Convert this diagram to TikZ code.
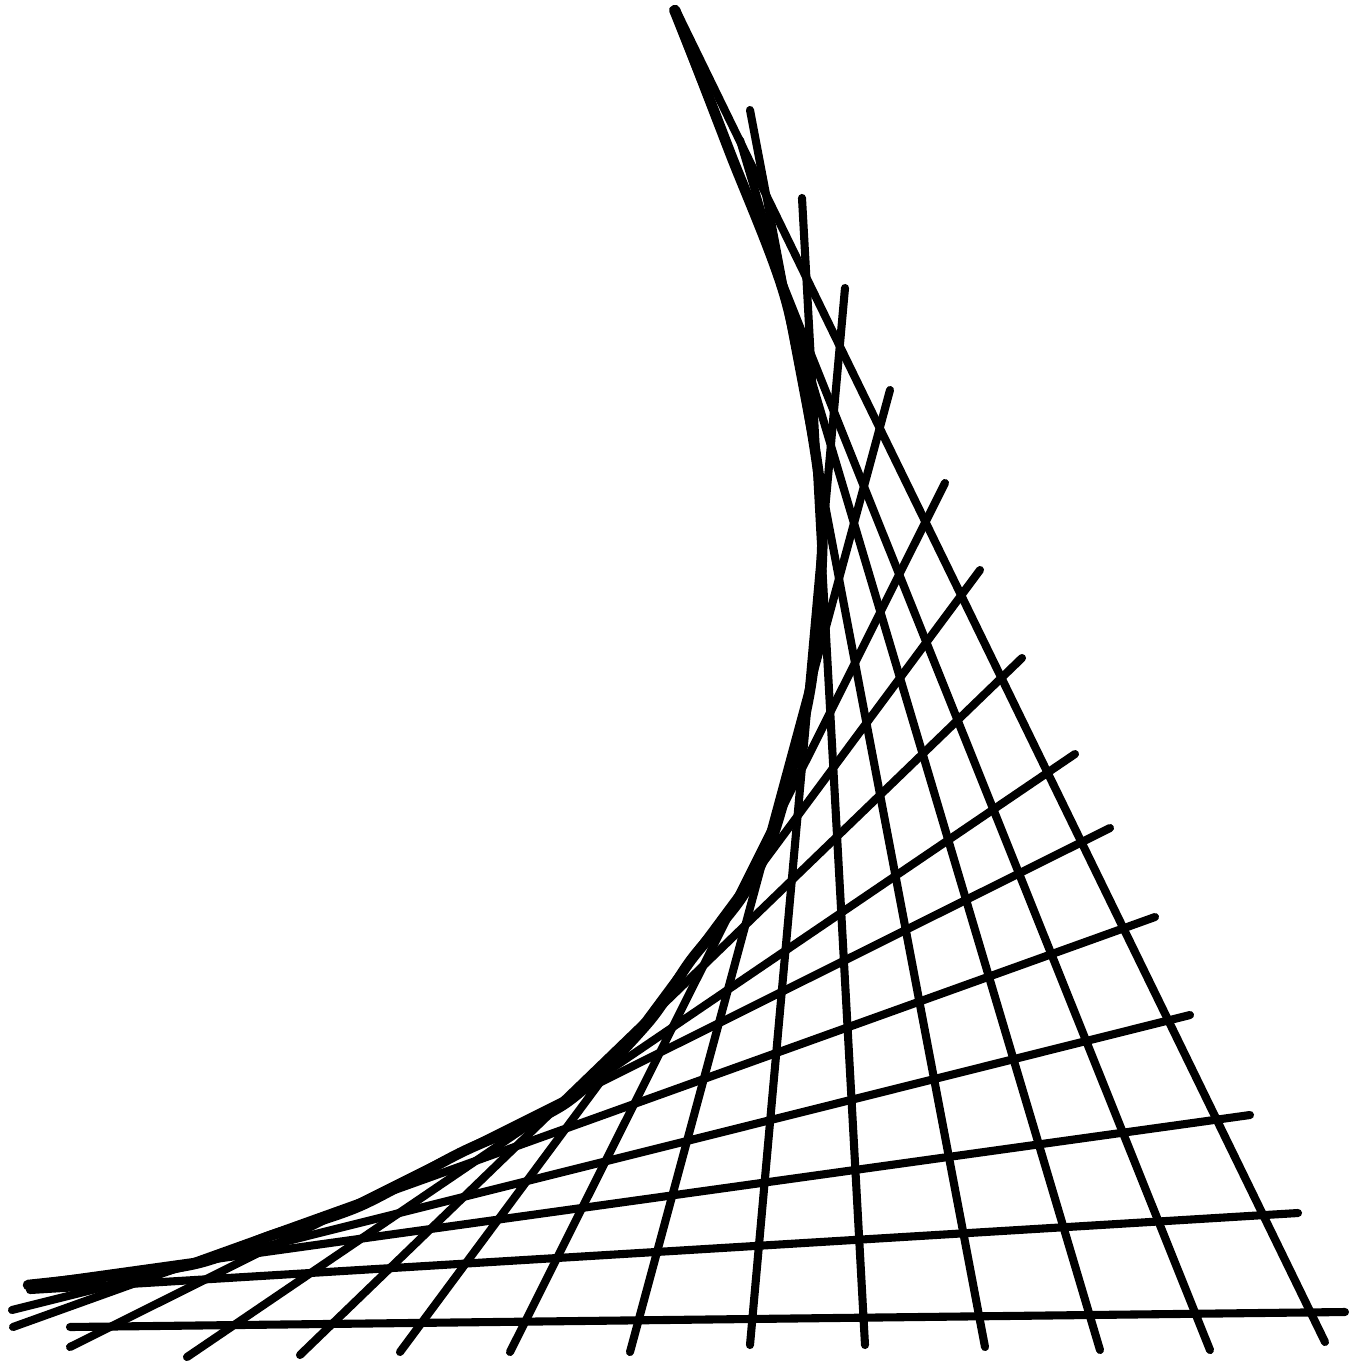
\documentclass[tikz,border=0pt]{standalone}
\begin{document}
\begin{tikzpicture}[x=0.01cm, y=-0.01cm, string/.style={line width=2.3pt, line cap=round, line join=round}]
    \useasboundingbox (0,0) rectangle (1362,1366);
    % each string joins its upper end (u) to its lower end (s)
    \foreach \i/\ux/\uy/\sx/\sy in {0/676/10/1325/1342, 1/673/10/1210/1350, 2/740/140/1100/1350,
        3/750/110/985/1347, 4/802/198/865/1345, 5/845/288/750/1345, 6/890/390/630/1352,
        7/945/483/510/1352, 8/980/570/400/1352, 9/1022/658/300/1355, 10/1075/754/187/1357,
        11/1110/828/70/1347, 12/1155/917/13/1327, 13/1190/1015/12/1310, 14/1250/1115/28/1285,
        15/1298/1213/30/1290, 16/1345/1312/70/1327} {
        \coordinate (u\i) at (\ux,\uy);
        \coordinate (s\i) at (\sx,\sy);
        \draw[string] (u\i) -- (s\i);
    }
    % envelope of the strings
    \draw[string, line width=3pt] plot[smooth, tension=0.5] coordinates {(675,10) (729,150) (786,300)
        (818,470) (822,555) (810,690) (775,830) (742,897) (691,960) (647,1024)
        (566,1103) (460,1153) (360,1206) (270,1236) (190,1265) (28,1285)};
\end{tikzpicture}
\end{document}
